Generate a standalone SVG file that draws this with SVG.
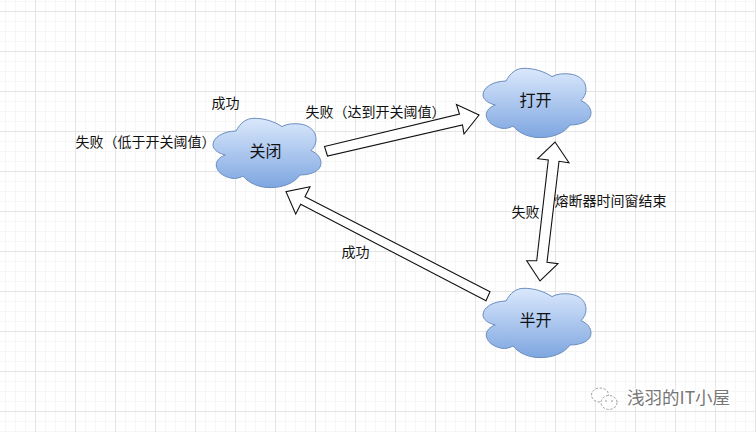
<svg xmlns="http://www.w3.org/2000/svg" width="756" height="432" viewBox="0 0 756 432">
<style>
text{font-family:"Noto Sans CJK SC","Liberation Sans",sans-serif;fill:#111;font-size:14px}
.n{font-size:16px;text-anchor:middle}
.c{fill:url(#g);stroke:#6c8ebf;stroke-width:1}
.a{fill:#fff;stroke:#111;stroke-width:1.1;stroke-linejoin:miter}
.w{font-size:17.5px;fill:#777;stroke:#fff;stroke-width:2.5;paint-order:stroke}
.b{fill:#fff;stroke:#888;stroke-width:0.8;stroke-dasharray:2.500 1.500}
</style>
<defs>
<linearGradient id="g" x1="0" y1="0" x2="0" y2="1"><stop offset="0" stop-color="#dae8fc"/><stop offset="1" stop-color="#7ea6e0"/></linearGradient>
<pattern id="minor" width="10" height="10" patternUnits="userSpaceOnUse" x="5" y="1"><path d="M0.5 0V10M0 0.5H10" stroke="#f6f6f6" stroke-width="1" fill="none"/></pattern>
<pattern id="major" width="40" height="40" patternUnits="userSpaceOnUse" x="35" y="11"><path d="M0.5 0V40M0 0.5H40" stroke="#e4e4e4" stroke-width="1" fill="none"/></pattern>
<path id="cloud" d="M23 12.7C27 5 33 0 41 0C51 0 61 3 69 8.3C74 5.5 80 5 87 5.7C97 7 103 13 103 21C103 26 101 29 98 32.3C104 35 108 39 108 45C108 52 99 56.7 87 56.7C81 65 70 69.3 57 69.3C46 69.3 36 65 30 57.7C26 60 22 60.5 19 60C10 58.5 3.3 53 3.3 46.7C3.3 42 7 38.5 12.3 36.7C5 35 0 31 0 26.7C0 19 10 13 23 12.7Z"/>
</defs>
<rect width="756" height="432" fill="#fff"/>
<rect width="756" height="432" fill="url(#minor)"/>
<rect width="756" height="432" fill="url(#major)"/>
<g id="connectors">
<polygon class="a" points="324.5,146.5 459.5,114 456.5,104.5 479,115 464,134 462.5,125 327.5,156"/>
<polygon class="a" points="490,291.7 305,196.7 310,186.7 286,191.7 295.7,214 300.7,204.3 486,300.7"/>
<polygon class="a" points="555,142 569,162.7 559,161.3 547,262.3 558,263.7 540,281 526.7,260.7 536.7,260.7 548.3,160 537.7,158.7"/>
</g>
<g id="node-closed"><use href="#cloud" class="c" x="213" y="118.3"/><text class="n" x="265.5" y="156.500">关闭</text></g>
<g id="node-open"><use href="#cloud" class="c" x="483" y="68.300"/><text class="n" x="535.500" y="105.500">打开</text></g>
<g id="node-half"><use href="#cloud" class="c" x="483" y="288.300"/><text class="n" x="535.500" y="325.500">半开</text></g>
<g id="labels">
<text x="211.500" y="107.500">成功</text>
<text x="75.500" y="147">失败（低于开关阈值）</text>
<text x="305.500" y="117">失败（达到开关阈值）</text>
<text x="554.500" y="206">熔断器时间窗结束</text>
<text x="511.500" y="216.500">失败</text>
<text x="341.500" y="257">成功</text>
</g>
<g id="watermark">
<ellipse class="b" cx="600" cy="395" rx="8.500" ry="7"/>
<ellipse class="b" cx="609" cy="402.500" rx="8" ry="7"/>
<circle cx="606" cy="401" r="0.800" fill="#888"/>
<circle cx="612" cy="401" r="0.800" fill="#888"/>
<text class="w" x="627" y="404">浅羽的IT小屋</text>
</g>
</svg>
